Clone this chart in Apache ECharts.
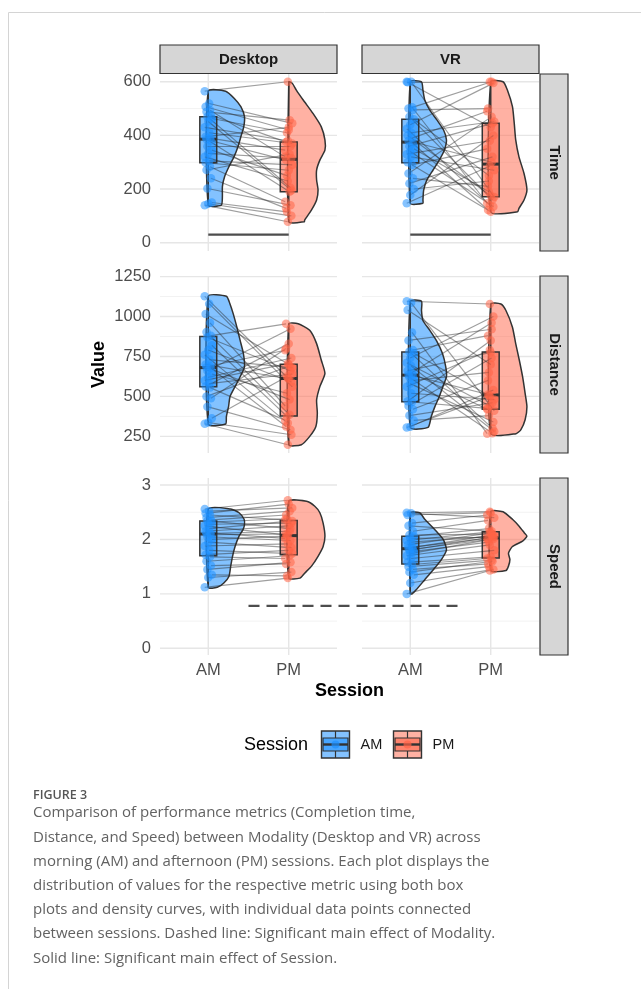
<!DOCTYPE html>
<html><head><meta charset="utf-8">
<script src="https://cdn.jsdelivr.net/npm/echarts@6/dist/echarts.min.js"></script>
<style>html,body{margin:0;padding:0;background:#fff;}#c{width:641px;height:989px;}</style>
</head><body><div id="c"></div>
<script>
// ---------- categories / labels ----------
const sessions = ['AM', 'PM'];
const modalities = ['Desktop', 'VR'];
const metrics = ['Time', 'Distance', 'Speed'];

// ---------- tick values ----------
const timeTicks = [0, 200, 400, 600];
const timeMinor = [100, 300, 500];
const distanceTicks = [250, 500, 750, 1000, 1250];
const distanceMinor = [375, 625, 875, 1125];
const speedTicks = [0, 1, 2, 3];
const speedMinor = [0.5, 1.5, 2.5];
const timeRange = [-31, 629];
const distanceRange = [146, 1253];
const speedRange = [-0.123, 3.129];

// ---------- paired participant values (AM[i] <-> PM[i]) ----------
const timeDesktopAM = [565, 519, 507, 494, 488, 476, 470, 463, 452, 430, 410, 395, 390, 386, 380, 360, 345, 333, 320, 305, 298, 283, 271, 240, 202, 150, 145, 140];
const timeDesktopPM = [600, 445, 420, 320, 457, 375, 205, 410, 195, 380, 370, 430, 345, 190, 308, 360, 250, 315, 230, 290, 270, 153, 330, 128, 140, 115, 100, 78];
const timeVRAM = [600, 600, 598, 505, 500, 495, 470, 460, 440, 425, 410, 400, 390, 380, 370, 360, 350, 340, 330, 320, 300, 290, 258, 240, 221, 200, 178, 147];
const timeVRPM = [600, 170, 430, 147, 600, 500, 160, 250, 595, 140, 452, 175, 490, 300, 122, 445, 190, 134, 380, 270, 115, 350, 470, 210, 320, 230, 400, 286];
const distanceDesktopAM = [1126, 1080, 1016, 960, 902, 880, 870, 820, 790, 760, 730, 700, 690, 683, 677, 660, 640, 620, 600, 580, 562, 555, 500, 488, 436, 364, 337, 329];
const distanceDesktopPM = [615, 560, 700, 440, 385, 954, 660, 375, 590, 333, 680, 609, 789, 480, 312, 923, 520, 740, 705, 640, 830, 350, 690, 800, 291, 625, 260, 198];
const distanceVRAM = [1095, 1085, 1040, 900, 850, 790, 780, 770, 740, 710, 690, 660, 645, 636, 630, 620, 600, 580, 560, 520, 470, 465, 440, 420, 380, 350, 310, 306];
const distanceVRPM = [1078, 410, 700, 267, 920, 880, 300, 506, 1000, 440, 280, 775, 420, 960, 512, 270, 650, 340, 790, 480, 850, 425, 740, 600, 460, 380, 540, 500];
const speedDesktopAM = [2.56, 2.52, 2.48, 2.45, 2.40, 2.36, 2.34, 2.32, 2.28, 2.25, 2.20, 2.15, 2.12, 2.11, 2.09, 2.05, 2.00, 1.95, 1.88, 1.80, 1.72, 1.68, 1.60, 1.52, 1.45, 1.35, 1.30, 1.12];
const speedDesktopPM = [2.72, 2.58, 2.65, 2.36, 2.52, 2.45, 2.20, 2.38, 2.30, 2.08, 2.34, 2.25, 2.02, 2.15, 2.10, 1.98, 2.06, 1.85, 1.92, 1.74, 1.80, 1.65, 1.70, 1.55, 1.58, 1.33, 1.40, 1.29];
const speedVRAM = [2.49, 2.48, 2.45, 2.30, 2.25, 2.15, 2.08, 2.06, 2.02, 1.98, 1.95, 1.90, 1.86, 1.84, 1.82, 1.80, 1.78, 1.74, 1.70, 1.65, 1.58, 1.54, 1.50, 1.45, 1.40, 1.35, 1.20, 1.00];
const speedVRPM = [2.51, 2.40, 2.49, 2.45, 2.15, 2.35, 2.10, 2.20, 2.04, 2.14, 2.06, 2.12, 2.02, 2.08, 2.00, 2.05, 1.95, 2.01, 1.90, 1.80, 1.68, 1.65, 1.62, 1.55, 1.60, 1.50, 1.45, 1.43];

// ---------- box statistics [min, Q1, median, Q3, max] ----------
const timeDesktopBoxAM = [140, 298, 386, 470, 565];
const timeDesktopBoxPM = [78, 190, 311, 375, 600];
const timeVRBoxAM = [147, 298, 375, 460, 600];
const timeVRBoxPM = [115, 171, 293, 445, 600];
const distanceDesktopBoxAM = [329, 561, 680, 875, 1126];
const distanceDesktopBoxPM = [198, 378, 612, 701, 954];
const distanceVRBoxAM = [306, 467, 633, 778, 1095];
const distanceVRBoxPM = [267, 420, 509, 778, 1078];
const speedDesktopBoxAM = [1.12, 1.70, 2.10, 2.34, 2.56];
const speedDesktopBoxPM = [1.29, 1.72, 2.07, 2.35, 2.72];
const speedVRBoxAM = [1.00, 1.55, 1.83, 2.06, 2.49];
const speedVRBoxPM = [1.43, 1.66, 2.03, 2.14, 2.51];

// ---------- half-violin density profiles [value, relative width] ----------
const timeDesktopViolinAM = [[565,0.48],[538,0.72],[507,0.9],[470,1.0],[432,0.98],[395,0.9],[358,0.82],[320,0.71],[283,0.57],[246,0.45],[209,0.39],[171,0.39],[140,0.36]];
const timeDesktopViolinPM = [[600,0.02],[594,0.1],[569,0.21],[532,0.4],[482,0.67],[432,0.9],[383,1.0],[345,1.0],[308,0.86],[271,0.77],[234,0.77],[196,0.81],[159,0.77],[122,0.63],[84,0.44],[78,0.43]];
const timeVRViolinAM = [[600,0.31],[569,0.35],[532,0.4],[494,0.54],[457,0.74],[420,0.92],[383,1.0],[345,0.94],[308,0.8],[271,0.63],[234,0.46],[196,0.37],[159,0.35],[147,0.35]];
const timeVRViolinPM = [[600,0.34],[569,0.46],[507,0.6],[445,0.65],[383,0.69],[320,0.78],[258,0.92],[196,1.0],[159,0.92],[128,0.78],[115,0.74]];
const distanceDesktopViolinAM = [[1126,0.5],[1078,0.6],[1016,0.69],[933,0.79],[850,0.88],[768,0.97],[685,1.0],[623,0.88],[561,0.74],[498,0.6],[436,0.56],[374,0.5],[327,0.48]];
const distanceDesktopViolinPM = [[954,0.26],[913,0.58],[830,0.77],[726,0.9],[643,1.0],[561,0.86],[478,0.77],[395,0.79],[312,0.75],[250,0.58],[198,0.35]];
const distanceVRViolinAM = [[1095,0.31],[1037,0.31],[975,0.35],[913,0.54],[850,0.72],[768,0.89],[685,0.98],[623,1.0],[561,0.9],[498,0.8],[436,0.68],[374,0.58],[306,0.49]];
const distanceVRViolinPM = [[1078,0.28],[1037,0.42],[933,0.6],[830,0.69],[726,0.79],[623,0.88],[519,0.95],[436,1.0],[354,0.95],[291,0.83],[267,0.7]];
const speedDesktopViolinAM = [[2.56,0.62],[2.49,0.85],[2.37,0.99],[2.27,1.0],[2.18,0.96],[2.06,0.85],[1.87,0.74],[1.69,0.67],[1.51,0.62],[1.32,0.57],[1.2,0.43],[1.12,0.25]];
const speedDesktopViolinPM = [[2.70,0.49],[2.61,0.72],[2.49,0.86],[2.30,0.95],[2.06,1.0],[1.87,0.95],[1.69,0.81],[1.51,0.63],[1.38,0.44],[1.29,0.31]];
const speedVRViolinAM = [[2.49,0.26],[2.37,0.4],[2.18,0.68],[2.0,0.91],[1.81,1.0],[1.63,0.86],[1.44,0.63],[1.26,0.4],[1.08,0.17],[1.0,0.05]];
const speedVRViolinPM = [[2.51,0.34],[2.37,0.6],[2.24,0.79],[2.12,0.93],[2.06,1.0],[1.97,0.88],[1.87,0.6],[1.75,0.49],[1.63,0.53],[1.51,0.49],[1.43,0.42]];

// ---------- significance annotations ----------
const sessionEffectValue = 30;       // solid line (Time panels), AM -> PM
const sessionEffectX = [1, 2];
const modalityEffectValue = 0.78;    // dashed line (Speed), spanning panels
const modalityEffectX = [1.5, 4.15];

// ---------- caption ----------
const figureLabel = 'FIGURE 3';
const captionLines = [
  'Comparison of performance metrics (Completion time,',
  'Distance, and Speed) between Modality (Desktop and VR) across',
  'morning (AM) and afternoon (PM) sessions. Each plot displays the',
  'distribution of values for the respective metric using both box',
  'plots and density curves, with individual data points connected',
  'between sessions. Dashed line: Significant main effect of Modality.',
  'Solid line: Significant main effect of Session.'
];

// ================= build =================
const panels = {
  Time: {
    range: timeRange, major: timeTicks, minor: timeMinor,
    Desktop: {am: timeDesktopAM, pm: timeDesktopPM, box: [timeDesktopBoxAM, timeDesktopBoxPM], vio: [timeDesktopViolinAM, timeDesktopViolinPM]},
    VR: {am: timeVRAM, pm: timeVRPM, box: [timeVRBoxAM, timeVRBoxPM], vio: [timeVRViolinAM, timeVRViolinPM]}
  },
  Distance: {
    range: distanceRange, major: distanceTicks, minor: distanceMinor,
    Desktop: {am: distanceDesktopAM, pm: distanceDesktopPM, box: [distanceDesktopBoxAM, distanceDesktopBoxPM], vio: [distanceDesktopViolinAM, distanceDesktopViolinPM]},
    VR: {am: distanceVRAM, pm: distanceVRPM, box: [distanceVRBoxAM, distanceVRBoxPM], vio: [distanceVRViolinAM, distanceVRViolinPM]}
  },
  Speed: {
    range: speedRange, major: speedTicks, minor: speedMinor,
    Desktop: {am: speedDesktopAM, pm: speedDesktopPM, box: [speedDesktopBoxAM, speedDesktopBoxPM], vio: [speedDesktopViolinAM, speedDesktopViolinPM]},
    VR: {am: speedVRAM, pm: speedVRPM, box: [speedVRBoxAM, speedVRBoxPM], vio: [speedVRViolinAM, speedVRViolinPM]}
  }
};

const FONT = '"Liberation Sans", Arial, Helvetica, sans-serif';
const cols = [160, 362], rows = [74, 276, 478], PW = 177, PH = 177;
const XMIN = 0.4, XMAX = 2.6, VW = 0.45, BW = 0.105;
const fillVio = ['rgba(30,144,255,0.55)', 'rgba(255,99,71,0.5)'];
const fillBox = ['rgba(30,144,255,0.58)', 'rgba(255,99,71,0.58)'];
const ptCol = ['rgba(30,144,255,0.68)', 'rgba(255,99,71,0.68)'];
const jit = (i, s) => ((((i * 5 + s * 3) % 9) - 4) * 0.011);

const option = {animation: false, grid: [], xAxis: [], yAxis: [], series: [], graphic: []};

function segmentSeries(k, xs, v, dash) {
  return {
    type: 'custom', xAxisIndex: k, yAxisIndex: k, silent: true, z: 6, clip: false,
    data: [[xs[0], v]],
    renderItem: (params, api) => {
      const p1 = api.coord([xs[0], v]), p2 = api.coord([xs[1], v]);
      return {type: 'line', shape: {x1: p1[0], y1: p1[1], x2: p2[0], y2: p2[1]},
        style: {stroke: '#4d4d4d', lineWidth: 2.2, lineDash: dash || null}};
    }
  };
}

metrics.forEach((m, r) => modalities.forEach((mod, c) => {
  const k = r * 2 + c;
  const P = panels[m], D = P[mod];
  option.grid.push({left: cols[c], top: rows[r], width: PW, height: PH, containLabel: false, outerBoundsMode: 'none'});
  option.xAxis.push({
    type: 'value', gridIndex: k, min: XMIN, max: XMAX,
    axisLine: {show: false}, axisTick: {show: false}, splitLine: {show: false},
    axisLabel: {show: r === 2, customValues: [1, 2], formatter: v => sessions[Math.round(v) - 1],
      color: '#4d4d4d', fontSize: 16.5, fontFamily: FONT, margin: 7}
  });
  option.yAxis.push({
    type: 'value', gridIndex: k, min: P.range[0], max: P.range[1],
    axisLine: {show: false}, axisTick: {show: false}, splitLine: {show: false},
    axisLabel: {show: c === 0, customValues: P.major, formatter: v => String(v), color: '#4d4d4d', fontSize: 16.5, fontFamily: FONT, margin: 9}
  });
  const gridItems = [];
  P.minor.forEach(v => gridItems.push([1, v]));
  P.major.forEach(v => gridItems.push([0, v]));
  [1, 2].forEach(v => gridItems.push([2, v]));
  option.series.push({
    type: 'custom', xAxisIndex: k, yAxisIndex: k, silent: true, z: 0, clip: true,
    data: gridItems, encode: {x: 1, y: 1},
    renderItem: (params, api) => {
      const it = gridItems[params.dataIndex];
      let p1, p2;
      if (it[0] === 2) { p1 = api.coord([it[1], P.range[0]]); p2 = api.coord([it[1], P.range[1]]); }
      else { p1 = api.coord([XMIN, it[1]]); p2 = api.coord([XMAX, it[1]]); }
      return {type: 'line', shape: {x1: p1[0], y1: p1[1], x2: p2[0], y2: p2[1]},
        style: {stroke: it[0] === 1 ? '#f2f2f2' : '#e6e6e6', lineWidth: it[0] === 1 ? 1 : 1.4}};
    }
  });
  // violins
  option.series.push({
    type: 'custom', xAxisIndex: k, yAxisIndex: k, silent: true, z: 1,
    data: [[1, D.box[0][2]], [2, D.box[1][2]]],
    renderItem: (params, api) => {
      const s = params.dataIndex, prof = D.vio[s], cx = s + 1;
      const pts = [api.coord([cx, prof[0][0]])];
      prof.forEach(([v, f]) => pts.push(api.coord([cx + f * VW, v])));
      pts.push(api.coord([cx, prof[prof.length - 1][0]]));
      return {type: 'polygon', shape: {points: pts, smooth: 0.2},
        style: {fill: fillVio[s], stroke: '#333', lineWidth: 1.5}};
    }
  });
  // boxes
  option.series.push({
    type: 'custom', xAxisIndex: k, yAxisIndex: k, silent: true, z: 2,
    data: [[1, D.box[0][2]], [2, D.box[1][2]]],
    renderItem: (params, api) => {
      const s = params.dataIndex, b = D.box[s], cx = s + 1;
      const tl = api.coord([cx - BW, b[3]]), br = api.coord([cx + BW, b[1]]);
      const m1 = api.coord([cx - BW, b[2]]), m2 = api.coord([cx + BW, b[2]]);
      const wTop = api.coord([cx, b[4]]), wQ3 = api.coord([cx, b[3]]);
      const wQ1 = api.coord([cx, b[1]]), wBot = api.coord([cx, b[0]]);
      const ls = {stroke: '#333', lineWidth: 1.5};
      return {type: 'group', children: [
        {type: 'line', shape: {x1: wTop[0], y1: wTop[1], x2: wQ3[0], y2: wQ3[1]}, style: ls},
        {type: 'line', shape: {x1: wQ1[0], y1: wQ1[1], x2: wBot[0], y2: wBot[1]}, style: ls},
        {type: 'rect', shape: {x: tl[0], y: tl[1], width: br[0] - tl[0], height: br[1] - tl[1]},
          style: {fill: fillBox[s], stroke: '#333', lineWidth: 1.5}},
        {type: 'line', shape: {x1: m1[0], y1: m1[1], x2: m2[0], y2: m2[1]}, style: {stroke: '#333', lineWidth: 3}}
      ]};
    }
  });
  // paired lines
  option.series.push({
    type: 'lines', coordinateSystem: 'cartesian2d', xAxisIndex: k, yAxisIndex: k, silent: true, z: 3,
    lineStyle: {color: 'rgba(40,40,40,0.45)', width: 1.15, opacity: 1},
    data: D.am.map((v, i) => ({coords: [[1 + jit(i, 0), v], [2 + jit(i, 1), D.pm[i]]]}))
  });
  // points
  [D.am, D.pm].forEach((arr, s) => option.series.push({
    type: 'scatter', xAxisIndex: k, yAxisIndex: k, silent: true, z: 4,
    symbolSize: 8.5, itemStyle: {color: ptCol[s]},
    data: arr.map((v, i) => [s + 1 + jit(i, s), v])
  }));
  // significance lines
  if (m === 'Time') option.series.push(segmentSeries(k, sessionEffectX, sessionEffectValue, null));
  if (m === 'Speed' && mod === 'Desktop') option.series.push(segmentSeries(k, modalityEffectX, modalityEffectValue, [11, 7]));
}));

// ---------- strips ----------
const G = option.graphic;
modalities.forEach((mod, c) => {
  G.push({type: 'rect', shape: {x: cols[c], y: 45, width: PW, height: 28.5}, style: {fill: '#d6d6d6', stroke: '#333', lineWidth: 1.2}});
  G.push({type: 'text', x: cols[c] + PW / 2, y: 59.5, style: {text: mod, font: 'bold 15px ' + FONT, fill: '#1a1a1a', align: 'center', verticalAlign: 'middle'}});
});
metrics.forEach((m, r) => {
  G.push({type: 'rect', shape: {x: 540, y: rows[r], width: 28, height: PH}, style: {fill: '#d6d6d6', stroke: '#333', lineWidth: 1.2}});
  G.push({type: 'text', x: 554, y: rows[r] + PH / 2, rotation: -Math.PI / 2,
    style: {text: m, font: 'bold 15px ' + FONT, fill: '#1a1a1a', align: 'center', verticalAlign: 'middle'}});
});
// axis titles
G.push({type: 'text', x: 99, y: 364.5, rotation: Math.PI / 2, style: {text: 'Value', font: 'bold 18px ' + FONT, fill: '#000', align: 'center', verticalAlign: 'middle'}});
G.push({type: 'text', x: 349.5, y: 691, style: {text: 'Session', font: 'bold 18px ' + FONT, fill: '#000', align: 'center', verticalAlign: 'middle'}});

// ---------- legend ----------
G.push({type: 'text', x: 244, y: 745, style: {text: 'Session', font: '18px ' + FONT, fill: '#000', align: 'left', verticalAlign: 'middle'}});
function legendKey(x, s, label) {
  const y = 731, w = 28, h = 27, cx = x + w / 2;
  G.push({type: 'rect', shape: {x: x, y: y, width: w, height: h}, style: {fill: fillVio[s], stroke: '#333', lineWidth: 1.4}});
  G.push({type: 'rect', shape: {x: x + 1.5, y: y + 7, width: w - 3, height: h - 14}, style: {fill: fillBox[s], stroke: '#333', lineWidth: 1.2}});
  G.push({type: 'line', shape: {x1: cx, y1: y, x2: cx, y2: y + 7}, style: {stroke: '#333', lineWidth: 1.2}});
  G.push({type: 'line', shape: {x1: cx, y1: y + h - 7, x2: cx, y2: y + h}, style: {stroke: '#333', lineWidth: 1.2}});
  G.push({type: 'line', shape: {x1: x + 1.5, y1: y + h / 2, x2: x + w - 1.5, y2: y + h / 2}, style: {stroke: '#333', lineWidth: 2.4}});
  G.push({type: 'circle', shape: {cx: cx, cy: y + h / 2, r: 4}, style: {fill: ptCol[s]}});
  G.push({type: 'text', x: x + w + 11, y: 745, style: {text: label, font: '14.5px ' + FONT, fill: '#1a1a1a', align: 'left', verticalAlign: 'middle'}});
}
legendKey(321.5, 0, sessions[0]);
legendKey(393.5, 1, sessions[1]);

// ---------- frame + caption ----------
G.push({type: 'line', shape: {x1: 8.5, y1: 12.5, x2: 641, y2: 12.5}, style: {stroke: '#d4d4d4', lineWidth: 1}});
G.push({type: 'line', shape: {x1: 8.5, y1: 12.5, x2: 8.5, y2: 989}, style: {stroke: '#d4d4d4', lineWidth: 1}});
G.push({type: 'text', x: 33, y: 795, style: {text: figureLabel, font: '600 12.5px "Open Sans", sans-serif', fill: '#555', align: 'left', verticalAlign: 'middle'}});
G.push({type: 'text', x: 33, y: 801, style: {text: captionLines.join('\n'), font: '15px "Open Sans", sans-serif', lineHeight: 24.2, fill: '#626262', align: 'left', verticalAlign: 'top'}});

const chart = echarts.init(document.getElementById('c'), null, {renderer: 'canvas', width: 641, height: 989});
chart.setOption(option);
</script>
</body></html>
